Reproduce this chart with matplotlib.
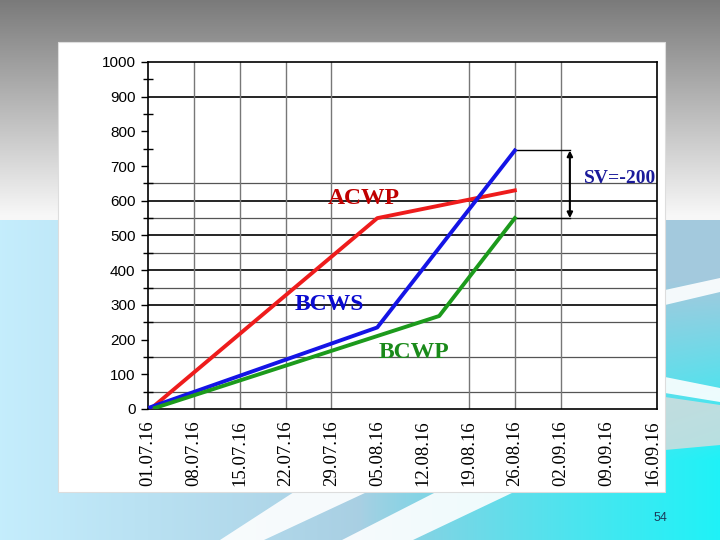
import matplotlib.pyplot as plt
import numpy as np
from matplotlib.patches import Rectangle, Polygon

# weekly dates on the x axis
dates = ["01.07.16", "08.07.16", "15.07.16", "22.07.16", "29.07.16", "05.08.16",
         "12.08.16", "19.08.16", "26.08.16", "02.09.16", "09.09.16", "16.09.16"]

# series (x = week index)
acwp_x = [0.1, 5.0, 8.0]
acwp_y = [5, 550, 630]
bcws_x = [0.05, 5.0, 8.0]
bcws_y = [5, 235, 745]
bcwp_x = [0.15, 6.35, 8.0]
bcwp_y = [3, 268, 550]

sv_top, sv_bottom = 745, 550

y_ticks = list(range(0, 1001, 100))
grid_dark = [300, 400, 500, 600, 900]
grid_light = [50, 150, 250, 350, 450, 550, 650]
grid_vert = [1, 2, 3, 4, 7, 8, 9]

fig = plt.figure(figsize=(7.2, 5.4), dpi=100)

# slide background
H, W = 540, 720
yy, xx = np.mgrid[0:H, 0:W]
bg = np.zeros((H, W, 3))
g = 0.48 + (0.97 - 0.48) * np.clip(yy / 215.0, 0, 1)
top = yy < 220
for k in range(3):
    bg[..., k] = np.where(top, g, 0)
c1 = np.array([0.77, 0.93, 0.99])
c2 = np.array([0.64, 0.79, 0.87])
c3 = np.array([0.12, 0.95, 0.97])
t = np.clip(xx / (0.6 * W), 0, 1)[..., None]
base = c1 * (1 - t) + c2 * t
w = (np.clip((xx / W - 0.5) * 2.0, 0, 1) ** 0.8
     * np.clip((yy - 280) / 180.0, 0, 1))[..., None]
low = base * (1 - w) + c3 * w
bg = np.where(top[..., None], bg, low)

bgax = fig.add_axes([0, 0, 1, 1])
bgax.imshow(bg, extent=(0, W, H, 0), aspect="auto")
bgax.set_xlim(0, W)
bgax.set_ylim(H, 0)
bgax.axis("off")
# white swooshes
bgax.add_patch(Polygon([(220, 540), (264, 540), (367, 492), (294, 492)],
                       closed=True, fc="white", ec="none", alpha=0.9))
bgax.add_patch(Polygon([(342, 540), (413, 540), (514, 492), (436, 492)],
                       closed=True, fc="white", ec="none", alpha=0.9))
bgax.add_patch(Polygon([(665, 290), (720, 278), (720, 292), (665, 305)],
                       closed=True, fc="white", ec="none", alpha=0.9))
bgax.add_patch(Polygon([(665, 377), (720, 388), (720, 402), (665, 393)],
                       closed=True, fc="white", ec="none", alpha=0.9))
bgax.add_patch(Polygon([(665, 397), (720, 405), (720, 445), (665, 450)],
                       closed=True, fc="#dcdcdc", ec="none", alpha=0.8))
bgax.add_patch(Rectangle((58, 42), 607, 450, fc="white", ec="#dddddd", lw=0.8))
bgax.text(660, 518, "54", fontsize=9, color="#1a3a5a", ha="center", va="center",
          family="Liberation Sans")

ax = fig.add_axes([148 / W, 1 - 409 / H, (657 - 148) / W, (409 - 62) / H])
ax.set_facecolor("white")
ax.set_xlim(0, 11.1)
ax.set_ylim(0, 1000)

for v in grid_light:
    ax.axhline(v, color="#555555", lw=0.9, zorder=1)
for v in grid_dark:
    ax.axhline(v, color="black", lw=1.2, zorder=1)
for i in grid_vert:
    ax.axvline(i, color="#777777", lw=1.0, zorder=1)

ax.plot(acwp_x, acwp_y, color="#ee1c1c", lw=2.8, zorder=3)
ax.plot(bcws_x, bcws_y, color="#1414e6", lw=2.8, zorder=3)
ax.plot(bcwp_x, bcwp_y, color="#1c9a1c", lw=2.8, zorder=3)

# schedule variance bracket
ax.plot([8.0, 9.2], [sv_top, sv_top], color="black", lw=1.0, zorder=2)
ax.plot([8.0, 9.2], [sv_bottom, sv_bottom], color="black", lw=1.0, zorder=2)
ax.annotate("", xy=(9.2, sv_top), xytext=(9.2, sv_bottom),
            arrowprops=dict(arrowstyle="<|-|>", color="black", lw=1.5,
                            mutation_scale=8, shrinkA=0, shrinkB=0), zorder=4)

serif = ["Liberation Serif", "DejaVu Serif"]
ax.text(10.3, 665, "SV=-200", color="#1a1a9a", fontsize=14, fontweight="bold",
        family=serif, ha="center", va="center")
ax.text(4.7, 607, "ACWP", color="#c00000", fontsize=17, fontweight="bold",
        family=serif, ha="center", va="center")
ax.text(3.95, 302, "BCWS", color="#0a0ad0", fontsize=17, fontweight="bold",
        family=serif, ha="center", va="center")
ax.text(5.8, 164, "BCWP", color="#1a8a1a", fontsize=17, fontweight="bold",
        family=serif, ha="center", va="center")

ax.set_yticks(y_ticks)
ax.set_yticks([50, 150, 250, 350, 450, 550, 650, 750, 850, 950], minor=True)
ax.tick_params(axis="y", which="major", direction="out", length=5, width=1, pad=4,
               labelsize=11)
ax.tick_params(axis="y", which="minor", direction="inout", length=7, width=1)
for lab in ax.get_yticklabels():
    lab.set_family("Liberation Sans")

ax.set_xticks(range(len(dates)))
ax.set_xticklabels(dates, rotation=90, family=serif, fontsize=13.5)
ax.tick_params(axis="x", length=0, pad=8)

for s in ax.spines.values():
    s.set_color("black")
    s.set_linewidth(1.2)

fig.savefig("out.png", dpi=100)
